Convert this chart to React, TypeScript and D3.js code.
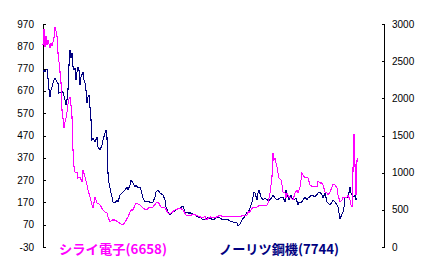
import React from "react";
import * as d3 from "d3";

// Trading-day index (0..315) and values
const shiraiDays = [0,1,2,3,4,5,6,7,8,9,10,11,12,13,14,15,16,17,18,19,20,21,22,23,24,25,26,27,28,29,30,31,32,33,34,35,37,39,40,42,44,45,47,49,50,52,54,55,57,60,62,64,65,67,69,72,75,78,80,82,85,88,90,92,93,97,100,103,107,110,113,115,118,122,125,128,132,137,140,143,147,150,153,157,160,162,163,167,170,174,177,180,184,187,190,194,197,200,204,205,207,209,210,214,217,220,224,225,227,229,230,231,232,233,234,235,236,238,239,240,242,243,244,246,247,250,252,254,255,257,259,260,262,264,265,267,270,272,274,275,277,279,280,282,284,285,287,289,290,292,294,295,297,299,300,302,304,305,307,308,309,310,311,312,313,314,315];
const shiraiValues = [876,948,867,916,876,898,880,862,885,871,889,907,957,939,916,840,800,755,710,584,548,504,531,548,575,611,634,643,607,557,405,329,306,302,306,279,284,262,315,284,248,226,194,158,145,194,167,167,158,136,127,122,105,82,91,91,82,73,69,82,105,136,136,158,167,158,145,136,149,149,167,172,149,145,122,122,136,145,136,113,109,118,113,105,100,109,91,105,100,105,113,105,109,105,105,105,105,113,113,127,127,145,145,149,158,158,158,167,212,284,392,360,369,347,329,302,279,270,248,217,212,190,212,194,194,181,212,226,212,239,302,293,279,284,279,248,239,244,239,266,257,257,248,217,212,203,217,239,253,248,235,203,172,181,194,190,194,203,181,158,149,315,477,338,203,360,369];

const noritsuDays = [0,1,2,3,4,5,6,7,8,9,10,11,12,14,15,16,18,20,22,23,24,25,26,27,28,29,30,31,32,33,34,35,36,37,38,40,41,42,43,44,45,46,47,48,49,50,52,54,55,57,59,60,62,63,64,65,66,68,69,70,72,74,75,77,79,80,82,84,85,87,88,90,92,93,95,97,98,100,102,105,108,110,112,113,115,117,120,122,123,125,127,130,133,137,140,142,145,148,152,155,157,160,164,167,170,174,177,180,184,187,190,194,195,197,199,202,204,205,207,209,210,211,212,214,215,216,218,220,222,224,227,229,230,232,234,237,240,242,243,244,245,246,248,249,251,253,255,256,258,260,262,264,265,269,272,275,277,279,280,282,284,285,287,289,290,292,294,295,296,297,299,300,301,302,304,305,307,308,309,311,312,313,314];
const noritsuValues = [2354,2381,2354,2381,2395,2274,2112,2018,2112,2152,2206,2247,2274,2220,2206,2072,2085,2085,1978,1910,1978,2112,2448,2650,2543,2610,2422,2381,2408,2247,2354,2422,2381,2179,2287,2354,2247,2206,2112,1937,2018,2045,1883,1709,1439,1466,1413,1480,1345,1305,1372,1439,1534,1574,1480,996,861,727,673,605,592,632,605,700,727,740,767,807,767,834,901,861,807,834,794,807,767,659,605,619,592,605,673,740,767,727,700,632,538,471,430,471,498,525,552,471,457,457,430,404,404,363,390,390,363,404,390,363,377,350,336,323,283,309,363,417,471,457,525,605,673,740,727,632,727,767,673,632,659,632,632,673,700,659,632,659,673,605,767,700,673,632,700,659,632,659,565,605,592,632,673,632,659,700,673,727,740,700,659,727,605,592,565,605,632,605,565,538,457,377,444,471,538,659,673,659,807,727,700,673,700,632,659];

const leftTicks = [-30,70,170,270,370,470,570,670,770,870,970];
const rightTicks = [0,500,1000,1500,2000,2500,3000];

const seriesNames = ["シライ電子(6658)", "ノーリツ鋼機(7744)"];
const seriesColors = ["#FF00FF", "#000080"];

export default function App() {
  const W = 434, H = 271;
  const x = d3.scaleLinear().domain([0, 315]).range([43, 358]);
  const yL = d3.scaleLinear().domain([-30, 970]).range([247, 24]);
  const yR = d3.scaleLinear().domain([0, 3000]).range([247, 24]);

  const lineL = d3.line<number>().x((_, i) => x(shiraiDays[i])).y((d) => yL(d)).curve(d3.curveLinear);
  const lineR = d3.line<number>().x((_, i) => x(noritsuDays[i])).y((d) => yR(d)).curve(d3.curveLinear);

  const font = "'Liberation Sans', Arial, sans-serif";
  return (
    <svg width={W} height={H} style={{ position: "absolute", left: 0, top: 0, background: "#fff" }}>
      <rect x={0} y={0} width={W} height={H} fill="#fff" />
      {/* left axis */}
      <line x1={43.5} x2={43.5} y1={24} y2={247} stroke="#000" strokeWidth={1} />
      {leftTicks.map((t) => (
        <g key={"l" + t}>
          <line x1={43} x2={46} y1={Math.round(yL(t)) + 0.5} y2={Math.round(yL(t)) + 0.5} stroke="#000" />
          <text x={34} y={yL(t)} dy="0.35em" textAnchor="end" fontSize={10} fontFamily={font} fill="#000">{t}</text>
        </g>
      ))}
      {/* right axis */}
      <line x1={384.5} x2={384.5} y1={24} y2={247} stroke="#000" strokeWidth={1} />
      {rightTicks.map((t) => (
        <g key={"r" + t}>
          <line x1={382} x2={385} y1={Math.round(yR(t)) + 0.5} y2={Math.round(yR(t)) + 0.5} stroke="#000" />
          <text x={392} y={yR(t)} dy="0.35em" textAnchor="start" fontSize={10} fontFamily={font} fill="#000">{t}</text>
        </g>
      ))}
      <path d={lineR(noritsuValues) || ""} fill="none" stroke={seriesColors[1]} strokeWidth={1.1} shapeRendering="crispEdges" />
      <path d={lineL(shiraiValues) || ""} fill="none" stroke={seriesColors[0]} strokeWidth={1.1} shapeRendering="crispEdges" />
      <text x={59} y={254} fontSize={13} fontWeight="bold" fontFamily="'Noto Sans CJK JP', sans-serif" fill={seriesColors[0]} textLength={108} lengthAdjust="spacingAndGlyphs">{seriesNames[0]}</text>
      <text x={219} y={254} fontSize={13} fontWeight="bold" fontFamily="'Noto Sans CJK JP', sans-serif" fill={seriesColors[1]} textLength={120} lengthAdjust="spacingAndGlyphs">{seriesNames[1]}</text>
    </svg>
  );
}
